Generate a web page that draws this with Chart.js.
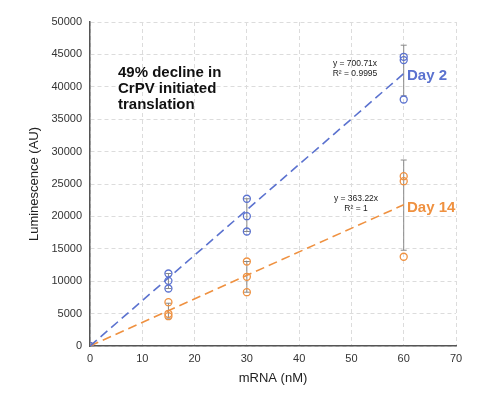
<!DOCTYPE html>
<html><head><meta charset="utf-8">
<script src="https://cdn.jsdelivr.net/npm/chart.js@4"></script>
<style>html,body{margin:0;padding:0;background:#fff}#wrap{width:488px;height:406px}</style>
</head><body><div id="wrap"><canvas id="c"></canvas></div>
<script>
const xValues = [0, 15, 15, 15, 30, 30, 30, 60, 60, 60];
const day2 = [0, 11190, 10060, 8870, 22720, 20030, 17670, 44630, 44120, 38040];
const day14 = [0, 6760, 4970, 4600, 13040, 10680, 8300, 26200, 25430, 13770];
const errX = [15, 30, 60];
const day2Low = [8870, 17670, 38600];
const day2High = [11190, 22720, 46420];
const day14Low = [4300, 8300, 14780];
const day14High = [6600, 13040, 28700];
const trendX = [0, 60];
const trend2 = [0, 42040];
const trend14 = [0, 21790];
const xTicks = [0, 10, 20, 30, 40, 50, 60, 70];
const yTicks = [0, 5000, 10000, 15000, 20000, 25000, 30000, 35000, 40000, 45000, 50000];

const BLUE = '#5b72cf';
const ORANGE = '#ef9140';
const FONT = "'Liberation Sans', Arial, sans-serif";

const pts = (xs, ys) => xs.map((x, i) => ({x: x, y: ys[i]}));

const errPlugin = {
  id: 'err',
  beforeDatasetsDraw(chart) {
    const ctx = chart.ctx, xs = chart.scales.x, ys = chart.scales.y;
    ctx.save();
    ctx.strokeStyle = '#888';
    ctx.lineWidth = 1;
    [[day2Low, day2High], [day14Low, day14High]].forEach(([lo, hi]) => {
      errX.forEach((x, i) => {
        const px = xs.getPixelForValue(x);
        const y1 = ys.getPixelForValue(lo[i]), y2 = ys.getPixelForValue(hi[i]);
        ctx.beginPath();
        ctx.moveTo(px, y1); ctx.lineTo(px, y2);
        ctx.moveTo(px - 3, y1); ctx.lineTo(px + 3, y1);
        ctx.moveTo(px - 3, y2); ctx.lineTo(px + 3, y2);
        ctx.stroke();
      });
    });
    ctx.restore();
  },
  afterDraw(chart) {
    const ctx = chart.ctx;
    ctx.save();
    ctx.fillStyle = '#111';
    ctx.font = "bold 15px " + FONT;
    ctx.textAlign = 'left'; ctx.textBaseline = 'middle';
    ctx.fillText('49% decline in', 118, 73);
    ctx.fillText('CrPV initiated', 118, 89);
    ctx.fillText('translation', 118, 105);
    ctx.font = "8.5px " + FONT;
    ctx.fillStyle = '#222';
    ctx.textAlign = 'center';
    ctx.fillText('y = 700.71x', 355, 64);
    ctx.fillText('R² = 0.9995', 355, 74);
    ctx.fillText('y = 363.22x', 356, 199);
    ctx.fillText('R² = 1', 356, 209);
    ctx.textAlign = 'left';
    ctx.font = "bold 15px " + FONT;
    ctx.fillStyle = BLUE;
    ctx.fillText('Day 2', 407, 76);
    ctx.fillStyle = ORANGE;
    ctx.fillText('Day 14', 407, 208);
    ctx.restore();
  }
};

new Chart(document.getElementById('c'), {
  type: 'scatter',
  data: {
    datasets: [
      {label: 'Day 2 fit', type: 'line', data: pts(trendX, trend2), borderColor: BLUE, borderWidth: 1.6, borderDash: [9, 5], pointRadius: 0, fill: false},
      {label: 'Day 14 fit', type: 'line', data: pts(trendX, trend14), borderColor: ORANGE, borderWidth: 1.6, borderDash: [9, 5], pointRadius: 0, fill: false},
      {label: 'Day 2', data: pts(xValues, day2), borderColor: BLUE, backgroundColor: 'rgba(255,255,255,0)', pointRadius: 3.5, borderWidth: 1.3},
      {label: 'Day 14', data: pts(xValues, day14), borderColor: ORANGE, backgroundColor: 'rgba(255,255,255,0)', pointRadius: 3.5, borderWidth: 1.3}
    ]
  },
  options: {
    responsive: true, maintainAspectRatio: false, animation: false,
    layout: {padding: {left: 0, right: 32, top: 22, bottom: 16}},
    plugins: {legend: {display: false}, tooltip: {enabled: false}},
    scales: {
      x: {
        type: 'linear', min: 0, max: 70,
        afterBuildTicks: s => { s.ticks = xTicks.map(v => ({value: v})); },
        afterFit: s => { s.height = 44; },
        grid: {color: '#dcdcdc', drawTicks: false},
        border: {color: '#555', width: 1.5, dash: [4, 3]},
        ticks: {color: '#333', font: {family: FONT, size: 11}, padding: 6, callback: v => String(v)},
        title: {display: true, text: 'mRNA (nM)', color: '#222', font: {family: FONT, size: 13}, padding: {top: 4}}
      },
      y: {
        min: 0, max: 50000,
        afterBuildTicks: s => { s.ticks = yTicks.map(v => ({value: v})); },
        afterFit: s => { s.width = 90; },
        grid: {color: '#dcdcdc', drawTicks: false},
        border: {color: '#555', width: 1.5, dash: [4, 3]},
        ticks: {color: '#333', font: {family: FONT, size: 11}, padding: 8, callback: v => String(v)},
        title: {display: true, text: 'Luminescence (AU)', color: '#222', font: {family: FONT, size: 13}, padding: {top: 27, bottom: 4}}
      }
    }
  },
  plugins: [errPlugin]
});
</script>
</body></html>
